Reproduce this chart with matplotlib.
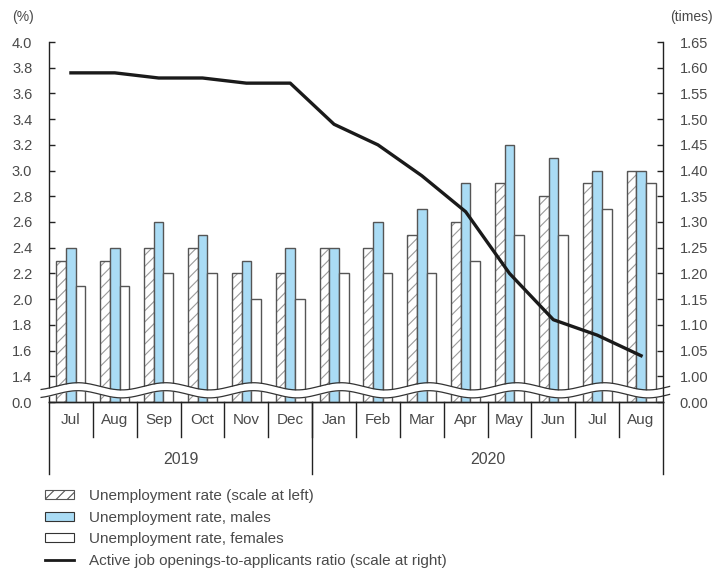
import numpy as np
import matplotlib.pyplot as plt
from matplotlib.patches import Patch
from matplotlib.lines import Line2D

plt.rcParams['font.family'] = ['Liberation Sans', 'DejaVu Sans']
plt.rcParams['hatch.linewidth'] = 0.8

months = ["Jul", "Aug", "Sep", "Oct", "Nov", "Dec", "Jan",
          "Feb", "Mar", "Apr", "May", "Jun", "Jul", "Aug"]
years = ["2019", "2020"]
year_spans = [(0, 6), (6, 14)]

unemp_total = [2.3, 2.3, 2.4, 2.4, 2.2, 2.2, 2.4, 2.4, 2.5, 2.6, 2.9, 2.8, 2.9, 3.0]
unemp_male = [2.4, 2.4, 2.6, 2.5, 2.3, 2.4, 2.4, 2.6, 2.7, 2.9, 3.2, 3.1, 3.0, 3.0]
unemp_female = [2.1, 2.1, 2.2, 2.2, 2.0, 2.0, 2.2, 2.2, 2.2, 2.3, 2.5, 2.5, 2.7, 2.9]
job_ratio = [1.59, 1.59, 1.58, 1.58, 1.57, 1.57, 1.49,
             1.45, 1.39, 1.32, 1.20, 1.11, 1.08, 1.04]

left_ticks = [1.4, 1.6, 1.8, 2.0, 2.2, 2.4, 2.6, 2.8, 3.0, 3.2, 3.4, 3.6, 3.8, 4.0]
right_ticks = [1.00, 1.05, 1.10, 1.15, 1.20, 1.25, 1.30, 1.35,
               1.40, 1.45, 1.50, 1.55, 1.60, 1.65]

# the axis is broken: zero sits one step below the first real tick
left_zero = 1.2
right_zero = 0.95

text_col = "#4a4a4a"
edge_col = "#555555"
blue = "#aadcf5"

fig = plt.figure(figsize=(7.24, 5.72), dpi=100)
ax = fig.add_axes([49 / 724, 1 - 402 / 572, 614 / 724, 360 / 572])
ax2 = ax.twinx()

x = np.arange(len(months))
w = 0.22
tot = np.array(unemp_total)
mal = np.array(unemp_male)
fem = np.array(unemp_female)

# hatched total bars: hatch layer then outline
ax.bar(x - w, tot - left_zero, w, bottom=left_zero, color="white",
       edgecolor="#9a9a9a", hatch="///", linewidth=0, zorder=2)
ax.bar(x - w, tot - left_zero, w, bottom=left_zero, color="none",
       edgecolor=edge_col, linewidth=1.0, zorder=3)
ax.bar(x, mal - left_zero, w, bottom=left_zero, color=blue,
       edgecolor=edge_col, linewidth=1.0, zorder=3)
ax.bar(x + w, fem - left_zero, w, bottom=left_zero, color="white",
       edgecolor=edge_col, linewidth=1.0, zorder=3)

ax2.plot(x, job_ratio, color="#1a1a1a", lw=2.4, zorder=5)

ax.set_xlim(-0.5, len(months) - 0.5)
ax.set_ylim(left_zero, 4.0)
ax2.set_ylim(right_zero, 1.65)
ax.set_yticks([left_zero] + left_ticks)
ax.set_yticklabels(["0.0"] + [f"{v:.1f}" for v in left_ticks])
ax2.set_yticks([right_zero] + right_ticks)
ax2.set_yticklabels(["0.00"] + [f"{v:.2f}" for v in right_ticks])
ax.set_xticks([])

for a in (ax, ax2):
    a.spines["top"].set_visible(False)
    for s in ("left", "right", "bottom"):
        a.spines[s].set_color("#222222")
        a.spines[s].set_linewidth(1.0)
    a.tick_params(axis="y", direction="in", length=4, width=1, color="#222222",
                  labelsize=10.5, labelcolor=text_col, pad=12)
ax.tick_params(axis="x", length=0)
ax.spines["right"].set_visible(False)
ax2.spines["left"].set_visible(False)

# wavy break band across the bottom
xs = np.linspace(-0.68, len(months) - 0.35, 600)
wave = 0.028 * np.cos(np.pi * (xs - 0.16))
y_hi = 1.322 + wave
y_lo = 1.260 + wave
ax.fill_between(xs, y_lo, y_hi, color="white", zorder=6, clip_on=False, lw=0)
ax.plot(xs, y_hi, color="#333333", lw=0.9, zorder=7, clip_on=False)
ax.plot(xs, y_lo, color="#333333", lw=0.9, zorder=7, clip_on=False)

# month and year labels under the axis
trans = ax.get_xaxis_transform()
px = 1 / 360  # one pixel in axes-height units
for i, m in enumerate(months):
    ax.text(i, -18 * px, m, transform=trans, ha="center", va="center",
            fontsize=11, color=text_col)
for i in range(1, len(months)):
    ax.plot([i - 0.5, i - 0.5], [0, -35 * px], transform=trans,
            color="#222222", lw=1.0, clip_on=False)
for (s, e), yr in zip(year_spans, years):
    ax.text((s + e - 1) / 2, -57 * px, yr, transform=trans, ha="center",
            va="center", fontsize=11.5, color=text_col)
for b in (-0.5, 5.5, len(months) - 0.5):
    ax.plot([b, b], [0, -72 * px], transform=trans,
            color="#222222", lw=1.0, clip_on=False)

fig.text(12 / 724, 1 - 17 / 572, "(%)", ha="left", va="center",
         fontsize=10, color=text_col)
fig.text(713 / 724, 1 - 17 / 572, "(times)", ha="right", va="center",
         fontsize=10, color=text_col)

handles = [
    Patch(facecolor="white", edgecolor="#555555", hatch="///", linewidth=0.8),
    Patch(facecolor=blue, edgecolor="#333333", linewidth=0.8),
    Patch(facecolor="white", edgecolor="#333333", linewidth=0.8),
    Line2D([0], [0], color="#1a1a1a", lw=2),
]
labels = ["Unemployment rate (scale at left)",
          "Unemployment rate, males",
          "Unemployment rate, females",
          "Active job openings-to-applicants ratio (scale at right)"]
leg = fig.legend(handles, labels, loc="upper left",
                 bbox_to_anchor=(45 / 724, 1 - 489 / 572), frameon=False,
                 fontsize=11, handlelength=1.9, handleheight=0.55,
                 handletextpad=0.95, labelspacing=0.5, borderpad=0,
                 borderaxespad=0)
for t in leg.get_texts():
    t.set_color(text_col)

fig.savefig("out.png", dpi=100)
